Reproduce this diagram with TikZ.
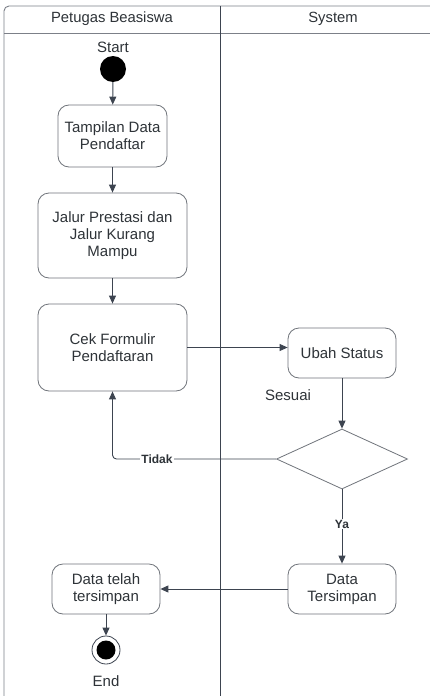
\documentclass[tikz,border=0pt]{standalone}
\usepackage{fontspec}
\setmainfont{Liberation Sans}
\usetikzlibrary{arrows.meta,shapes.geometric}
\definecolor{lineclr}{HTML}{3D4450}
\definecolor{frameclr}{HTML}{7C8088}
\definecolor{boxclr}{HTML}{70747B}
\definecolor{txtclr}{HTML}{2E3338}
\tikzset{
  actbox/.style={draw=boxclr, line width=0.8pt, rounded corners=11pt, align=center,
    text=txtclr, font=\fontsize{15}{17}\selectfont, inner sep=2pt},
  flow/.style={draw=lineclr, line width=0.9pt, -{Triangle[length=8pt,width=7pt]}},
  guard/.style={font=\bfseries\fontsize{12}{14}\selectfont, text=txtclr, fill=white, inner sep=1pt},
  lanetitle/.style={font=\fontsize{14.8}{16}\selectfont, text=txtclr},
  plain/.style={font=\fontsize{15}{17}\selectfont, text=txtclr}
}
\begin{document}
\begin{tikzpicture}[x=1pt,y=-1pt]
\useasboundingbox (0,0) rectangle (430,696);
\fill[white] (0,0) rectangle (430,696);

% swimlane frame
\draw[frameclr, line width=0.9pt, rounded corners=5pt] (4,696) -- (4,6) -- (430,6);
\draw[frameclr, line width=0.9pt] (4,33) -- (430,33);
\draw[lineclr, line width=0.9pt] (220,6) -- (220,696);
\node[lanetitle] (lane1) at (112,19) {Petugas Beasiswa};
\node[lanetitle] (lane2) at (333,19) {System};

% initial node
\node[plain] (starttxt) at (113,47) {Start};
\node[circle, fill=black, minimum size=26pt, inner sep=0pt] (start) at (113,69) {};

% activities
\node[actbox, minimum width=109pt, minimum height=62pt] (tampil) at (112.5,136) {Tampilan Data\\Pendaftar};
\node[actbox, minimum width=149pt, minimum height=85pt] (jalur) at (112.5,235.5) {Jalur Prestasi dan\\Jalur Kurang\\Mampu};
\node[actbox, minimum width=149pt, minimum height=87pt] (cek) at (112.5,347.5) {Cek Formulir\\Pendaftaran};
\node[actbox, minimum width=108pt, minimum height=50pt] (ubah) at (342,353) {Ubah Status};
\node[diamond, draw=boxclr, line width=0.8pt, minimum width=131pt, minimum height=60pt, aspect=2.18, inner sep=0pt] (dec) at (342,459) {};
\node[actbox, minimum width=108pt, minimum height=50pt] (simpan) at (342,589) {Data\\Tersimpan};
\node[actbox, minimum width=108pt, minimum height=50pt] (telah) at (106,589) {Data telah\\tersimpan};

% final node
\node[circle, draw=lineclr, line width=0.8pt, fill=white, minimum size=28pt, inner sep=0pt] (end) at (106,650) {};
\node[circle, fill=black, minimum size=19pt, inner sep=0pt] (endin) at (106,650) {};
\node[plain] (endtxt) at (106,681) {End};

\node[plain] (sesuai) at (288,395) {Sesuai};

% control flow
\draw[flow] (start) -- (tampil);
\draw[flow] (tampil) -- (jalur);
\draw[flow] (jalur) -- (cek);
\draw[flow] (cek.east) -- (cek.east -| ubah.west);
\draw[flow] (ubah) -- (dec);
\draw[flow, rounded corners=4pt] (dec.west) -- (cek.south |- dec.west) -- (cek.south);
\draw[flow] (dec.south) -- (simpan.north);
\draw[flow] (simpan.west) -- (telah.east);
\draw[flow] (telah.south) -- (end.north);

% guards
\node[guard] (tidak) at (157,459) {Tidak};
\node[guard] (ya) at (342,524) {Ya};
\end{tikzpicture}
\end{document}
